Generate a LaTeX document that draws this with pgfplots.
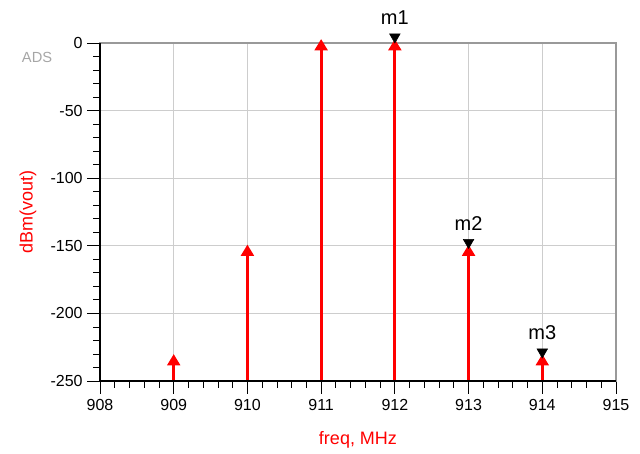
\documentclass[border=0pt]{standalone}
\usepackage{pgfplots}
\pgfplotsset{compat=1.18}
\usepackage{fontspec}
\setmainfont{Liberation Sans}
\usetikzlibrary{arrows.meta,calc}
\definecolor{adsred}{RGB}{255,0,0}
\definecolor{gridgray}{RGB}{205,205,205}
\begin{document}
\begin{tikzpicture}
\begin{axis}[
  name=ax,
  scale only axis,
  width=387pt, height=253.5pt,
  xmin=908, xmax=915, ymin=-250, ymax=0,
  xtick={908,909,...,915}, ytick={-250,-200,...,0},
  minor x tick num=4, minor y tick num=4,
  xtick pos=bottom, ytick pos=left,
  tick align=outside,
  major tick length=9.5pt, minor tick length=5pt,
  tick style={black, line width=0.6pt},
  grid=major, grid style={gridgray, line width=0.6pt},
  axis line style={gray!80, line width=0.8pt},
  /pgf/number format/assume math mode=true,
  /pgf/number format/.cd, 1000 sep={}, /pgfplots/.cd,
  tick label style={font=\fontsize{12}{14}\selectfont},
  xticklabel style={yshift=-1pt},
  xlabel={freq, MHz}, ylabel={dBm(vout)},
  label style={font=\fontsize{13.5}{15}\selectfont, text=adsred},
  xlabel style={at={(rel axis cs:0.5,-0.1746)}, anchor=center},
  ylabel style={at={(rel axis cs:-0.1395,0.5)}, anchor=center, rotate=0},
  clip=false,
]
% spectral lines
\addplot[adsred, line width=2.2pt, -{Triangle[width=9.5pt,length=8.5pt]},
  shorten >=-3pt, quiver={u=0, v=\thisrow{v}}] table {
x    y    v
909 -250  17
910 -250  98
911 -250  250
912 -250  250
913 -250  98
914 -250  17
};
% markers
\addplot[only marks, mark=triangle*, mark size=4.6pt,
  mark options={black, fill=black, yshift=4.6pt, rotate=180},
  point meta=explicit symbolic, nodes near coords,
  nodes near coords style={anchor=base, inner sep=0pt, yshift=9pt,
    font=\fontsize{15}{17}\selectfont, text=black}]
  table[meta=label] {
x    y    label
912  0    m1
913 -152  m2
914 -233  m3
};
\draw[black, line width=0.8pt] (rel axis cs:0,1) -- (rel axis cs:0,0) -- (rel axis cs:1,0);
\node[text=gray!70, font=\fontsize{11}{13}\selectfont] at (rel axis cs:-0.122,0.956) {ADS};
\end{axis}
\path ($(ax.south west)+(-75pt,-54.75pt)$) rectangle ($(ax.north east)+(18pt,32.25pt)$);
\end{tikzpicture}
\end{document}
